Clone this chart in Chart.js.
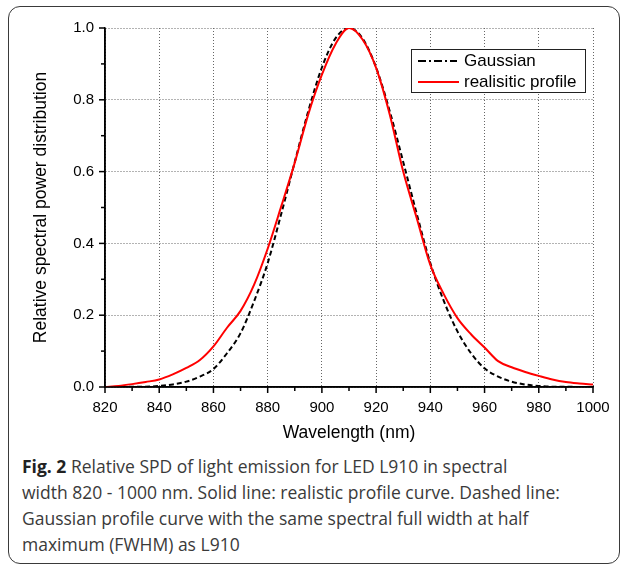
<!DOCTYPE html>
<html><head><meta charset="utf-8">
<script src="https://cdn.jsdelivr.net/npm/chart.js@4/dist/chart.umd.min.js"></script>
<style>
html,body{margin:0;padding:0;background:#fff;}
#frame{position:absolute;left:8px;top:6px;width:612px;height:558px;border:1.5px solid #3a3a3a;border-radius:12px;box-sizing:border-box;}
#wrap{position:absolute;left:0;top:0;width:627px;height:450px;}
#caption{position:absolute;left:22px;top:453px;width:600px;font-family:"Open Sans",sans-serif;font-size:17.5px;line-height:26px;color:#3a3a3a;white-space:nowrap;}
#caption b{color:#222;}
</style></head>
<body>
<div id="frame"></div>
<div id="wrap"><canvas id="c" width="627" height="450"></canvas></div>
<div id="caption"><b>Fig. 2</b> Relative SPD of light emission for LED L910 in spectral<br>width 820 - 1000 nm. Solid line: realistic profile curve. Dashed line:<br>Gaussian profile curve with the same spectral full width at half<br>maximum (FWHM) as L910</div>
<script>
const wavelengths = [820,825,830,835,840,845,850,855,860,865,870,875,880,885,890,895,900,905,910,915,920,925,930,935,940,945,950,955,960,965,970,975,980,985,990,995,1000];
const realistic = [0.000,0.003,0.008,0.014,0.021,0.035,0.053,0.075,0.113,0.165,0.212,0.285,0.385,0.503,0.625,0.760,0.870,0.955,1.000,0.968,0.889,0.760,0.600,0.470,0.340,0.258,0.192,0.147,0.110,0.072,0.055,0.042,0.031,0.021,0.014,0.010,0.007];
const gaussian = [0.000,0.000,0.001,0.001,0.003,0.007,0.015,0.029,0.050,0.094,0.150,0.239,0.345,0.482,0.627,0.769,0.890,0.971,1.000,0.971,0.890,0.769,0.627,0.482,0.345,0.239,0.155,0.094,0.052,0.029,0.015,0.007,0.003,0.001,0.001,0.000,0.000];
const xTicks = [820,840,860,880,900,920,940,960,980,1000];
const yTicks = [0.0,0.2,0.4,0.6,0.8,1.0];
const seriesNames = ['Gaussian','realisitic profile'];

const pts = arr => wavelengths.map((w,i)=>({x:w,y:arr[i]}));

const tickPlugin = {
  id:'minorTicks',
  afterDraw(chart){
    const ctx = chart.ctx, xs = chart.scales.x, ys = chart.scales.y;
    const area = chart.chartArea;
    ctx.save();
    ctx.setLineDash([]);
    ctx.strokeStyle = '#000'; ctx.lineWidth = 1.5;
    ctx.beginPath(); ctx.moveTo(area.left, area.top); ctx.lineTo(area.left, area.bottom); ctx.lineTo(area.right, area.bottom); ctx.stroke();
    for (let v = xs.min; v <= xs.max + 1e-6; v += 10) {
      const px = xs.getPixelForValue(v);
      const major = Math.abs(((v - xs.min) / 20) - Math.round((v - xs.min) / 20)) < 1e-6;
      ctx.beginPath(); ctx.moveTo(px, area.bottom); ctx.lineTo(px, area.bottom + (major ? 6 : 4)); ctx.stroke();
    }
    for (let i = 0; i <= 10; i++) {
      const v = i / 10;
      const py = ys.getPixelForValue(v);
      const major = i % 2 === 0;
      ctx.beginPath(); ctx.moveTo(area.left, py); ctx.lineTo(area.left - (major ? 6 : 4), py); ctx.stroke();
    }
    // legend
    const lx = 411.5, ly = 49.5, lw = 174, lh = 43;
    ctx.fillStyle = '#fff'; ctx.fillRect(lx, ly, lw, lh);
    ctx.strokeStyle = '#222'; ctx.lineWidth = 1;
    ctx.strokeRect(lx, ly, lw, lh);
    ctx.lineWidth = 2;
    ctx.strokeStyle = '#000'; ctx.setLineDash([8,3,2,3]);
    ctx.beginPath(); ctx.moveTo(418, 61); ctx.lineTo(457, 61); ctx.stroke();
    ctx.setLineDash([]);
    ctx.strokeStyle = '#ff0000';
    ctx.beginPath(); ctx.moveTo(418, 82); ctx.lineTo(459, 82); ctx.stroke();
    ctx.fillStyle = '#000'; ctx.font = '17px "Liberation Sans", Arial, sans-serif';
    ctx.textBaseline = 'middle'; ctx.textAlign = 'left';
    ctx.fillText(seriesNames[0], 464, 61);
    ctx.fillText(seriesNames[1], 464, 82);
    ctx.restore();
  }
};

const gridOpts = {color:'#666', lineWidth:1, drawTicks:false};
const borderOpts = {display:true, color:'#000', width:1.5, dash:[1,2]};
new Chart(document.getElementById('c'), {
  type:'line',
  data:{datasets:[
    {label:seriesNames[1], data:pts(realistic), borderColor:'#ff0000', borderWidth:2, pointRadius:0, cubicInterpolationMode:'monotone', fill:false},
    {label:seriesNames[0], data:pts(gaussian), borderColor:'#000', borderWidth:2, borderDash:[5,3], pointRadius:0, cubicInterpolationMode:'monotone', fill:false}
  ]},
  options:{
    responsive:false, animation:false, devicePixelRatio:1,
    layout:{padding:{left:0,right:34,top:28,bottom:0}},
    plugins:{legend:{display:false}, tooltip:{enabled:false}},
    scales:{
      x:{type:'linear', min:820, max:1000,
        afterBuildTicks(s){ s.ticks = xTicks.map(v=>({value:v})); },
        afterFit(s){ s.height = 63; },
        grid:gridOpts,
        border:borderOpts,
        ticks:{padding:12, color:'#000', font:{family:'"Liberation Sans", Arial', size:15}, callback:v=>String(v)},
        title:{display:true, text:'Wavelength (nm)', color:'#000', font:{family:'"Liberation Sans", Arial', size:17.5}, padding:{top:0,bottom:6}}
      },
      y:{type:'linear', min:0, max:1,
        afterBuildTicks(s){ s.ticks = yTicks.map(v=>({value:v})); },
        afterFit(s){ s.width = 105; },
        grid:gridOpts,
        border:borderOpts,
        ticks:{padding:11, color:'#000', font:{family:'"Liberation Sans", Arial', size:15}, callback:v=>v.toFixed(1)},
        title:{display:true, text:'Relative spectral power distribution', color:'#000', font:{family:'"Liberation Sans", Arial', size:17.5}, padding:{top:31,bottom:0}}
      }
    }
  },
  plugins:[tickPlugin]
});
</script>
</body></html>
